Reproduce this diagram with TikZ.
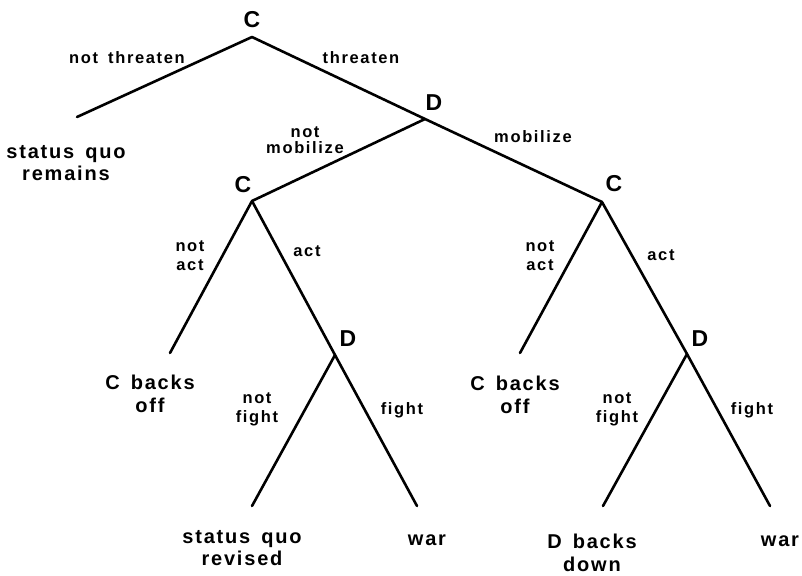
\documentclass[tikz,border=0pt]{standalone}
\usepackage{fontspec}
\newfontfamily\labfont[LetterSpace=10,WordSpace=1.6]{Liberation Sans}
\newfontfamily\outfont[LetterSpace=9,WordSpace=1.5]{Liberation Sans}
\newfontfamily\plfont{Liberation Sans}
\begin{document}
\begin{tikzpicture}[x=1pt,y=-1pt,
  branch/.style={line width=2.6pt,line cap=round,line join=round},
  player/.style={font=\plfont\bfseries\fontsize{23}{23}\selectfont,inner sep=0pt},
  move/.style={font=\labfont\bfseries\fontsize{16.5}{15.5}\selectfont,align=center,inner sep=0pt},
  movetall/.style={font=\labfont\bfseries\fontsize{16.5}{19}\selectfont,align=center,inner sep=0pt},
  outcome/.style={font=\outfont\bfseries\fontsize{20}{22.5}\selectfont,align=center,inner sep=0pt}]
\useasboundingbox (0,0) rectangle (802,575);
% vertices
\coordinate (r) at (252,37);
\coordinate (a1) at (77,117);
\coordinate (d1) at (425,119);
\coordinate (c2) at (252,201);
\coordinate (c3) at (602,202);
\coordinate (e1) at (170,353);
\coordinate (d2) at (335,355);
\coordinate (e2) at (520,353);
\coordinate (d3) at (687,354);
\coordinate (e3) at (252,506);
\coordinate (e4) at (417,506);
\coordinate (e5) at (603,506);
\coordinate (e6) at (770,506);
% branches
\draw[branch] (a1) -- (r) -- (d1);
\draw[branch] (c2) -- (d1) -- (c3);
\draw[branch] (e1) -- (c2) -- (d2);
\draw[branch] (e2) -- (c3) -- (d3);
\draw[branch] (e3) -- (d2) -- (e4);
\draw[branch] (e5) -- (d3) -- (e6);
% players
\node[player] (pr) at (252,20) {C};
\node[player] (pd1) at (434,103) {D};
\node[player] (pc2) at (243,185) {C};
\node[player] (pc3) at (614,184) {C};
\node[player] (pd2) at (348,339) {D};
\node[player] (pd3) at (700,339) {D};
% moves
\node[move] (m1) at (127,58) {not threaten};
\node[move] (m2) at (361,58) {threaten};
\node[move] (m3) at (305,140) {not\\mobilize};
\node[move] (m4) at (533,137) {mobilize};
\node[movetall] (m5) at (190,256) {not\\act};
\node[move] (m6) at (307,251) {act};
\node[movetall] (m7) at (540,256) {not\\act};
\node[move] (m8) at (661,255) {act};
\node[movetall] (m9) at (257,409) {not\\fight};
\node[move] (m10) at (402,410) {fight};
\node[movetall] (m11) at (617,409) {not\\fight};
\node[move] (m12) at (752,410) {fight};
% outcomes
\node[outcome] (o1) at (66,163) {status quo\\remains};
\node[outcome] (o2) at (150,394) {C backs\\off};
\node[outcome] (o3) at (515,395) {C backs\\off};
\node[outcome] (o4) at (242,548) {status quo\\revised};
\node[outcome] (o5) at (427,540) {war};
\node[outcome] (o6) at (592,553) {D backs\\down};
\node[outcome] (o7) at (780,541) {war};
\end{tikzpicture}
\end{document}
